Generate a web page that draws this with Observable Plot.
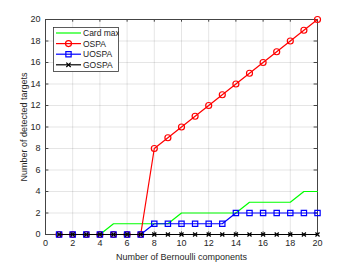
<!DOCTYPE html>
<html><head><meta charset="utf-8">
<script src="https://cdn.jsdelivr.net/npm/d3@7"></script>
<script src="https://cdn.jsdelivr.net/npm/@observablehq/plot@0.6"></script>
<style>
body{margin:0;background:#fff;font-family:"Liberation Sans",Arial,sans-serif;}
#wrap{position:relative;width:350px;height:263px;}
#legend{position:absolute;left:53px;top:27px;}
</style></head>
<body><div id="wrap"></div>
<script>
const components = d3.range(1, 21);
const cardMax = [0,0,0,0,1,1,1,1,1,2,2,2,2,2,3,3,3,3,4,4];
const ospa    = [0,0,0,0,0,0,0,8,9,10,11,12,13,14,15,16,17,18,19,20];
const uospa   = [0,0,0,0,0,0,0,1,1,1,1,1,1,2,2,2,2,2,2,2];
const gospa   = [0,0,0,0,0,0,0,0,0,0,0,0,0,0,0,0,0,0,0,0];
const xTicks = d3.range(0, 21, 2);
const yTicks = d3.range(0, 21, 2);
const seriesNames = ["Card max","OSPA","UOSPA","GOSPA"];
const seriesColors = ["#00ff00","#ff0000","#0000ff","#000000"];

const rows = (arr) => components.map((c,i)=>({x:c,y:arr[i]}));

const chart = Plot.plot({
  width:350, height:263,
  marginLeft:45, marginRight:33, marginTop:19, marginBottom:29,
  style:{fontFamily:"Liberation Sans, Arial, sans-serif", fontSize:"9px", color:"#262626", background:"#fff"},
  x:{domain:[0,20], ticks:xTicks},
  y:{domain:[0,20], ticks:yTicks},
  marks:[
    Plot.gridX(xTicks,{stroke:"#000",strokeOpacity:0.1}),
    Plot.gridY(yTicks,{stroke:"#000",strokeOpacity:0.1}),
    Plot.axisX({ticks:xTicks, tickSize:0, tickPadding:5, label:"Number of Bernoulli components", labelAnchor:"center", labelOffset:25, labelArrow:"none", fontSize:9}),
    Plot.axisY({ticks:yTicks, tickSize:0, tickPadding:5, label:"Number of detected targets", labelAnchor:"center", labelOffset:25, labelArrow:"none", fontSize:9}),
    Plot.ruleX(xTicks,{x:d=>d, y1:0, y2:0.25, stroke:"#444"}),
    Plot.ruleX(xTicks,{x:d=>d, y1:19.75, y2:20, stroke:"#444"}),
    Plot.ruleY(yTicks,{y:d=>d, x1:0, x2:0.25, stroke:"#444"}),
    Plot.ruleY(yTicks,{y:d=>d, x1:19.75, x2:20, stroke:"#444"}),
    Plot.frame({stroke:"#444"}),
    Plot.line(rows(cardMax),{x:"x",y:"y",stroke:seriesColors[0],strokeWidth:1.2}),
    Plot.line(rows(ospa),{x:"x",y:"y",stroke:seriesColors[1],strokeWidth:1.2}),
    Plot.dot(rows(ospa),{x:"x",y:"y",stroke:seriesColors[1],r:3,symbol:"circle",strokeWidth:1.2}),
    Plot.line(rows(uospa),{x:"x",y:"y",stroke:seriesColors[2],strokeWidth:1.2}),
    Plot.dot(rows(uospa),{x:"x",y:"y",stroke:seriesColors[2],r:3,symbol:"square",strokeWidth:1.2}),
    Plot.line(rows(gospa),{x:"x",y:"y",stroke:seriesColors[3],strokeWidth:1.2}),
    Plot.dot(rows(gospa),{x:"x",y:"y",stroke:seriesColors[3],r:2,symbol:"times",strokeWidth:1.2})
  ]
});
document.getElementById("wrap").appendChild(chart);

// legend
const lg = d3.select("#wrap").append("svg").attr("id","legend").attr("width",66).attr("height",45);
lg.append("rect").attr("x",0.5).attr("y",0.5).attr("width",65).attr("height",44).attr("fill","#fff").attr("stroke","#333").attr("stroke-width",0.8);
const syms = ["none","circle","square","times"];
seriesNames.forEach((n,i)=>{
  const y = 6 + i*10.6;
  const g = lg.append("g");
  g.append("line").attr("x1",3).attr("x2",28).attr("y1",y).attr("y2",y).attr("stroke",seriesColors[i]).attr("stroke-width",1.2);
  if(syms[i]!=="none"){
    const s = syms[i]==="circle"?d3.symbolCircle:syms[i]==="square"?d3.symbolSquare:d3.symbolTimes;
    g.append("path").attr("d",d3.symbol(s, syms[i]==="times"?14:28)()).attr("transform",`translate(15.5,${y})`).attr("fill","none").attr("stroke",seriesColors[i]).attr("stroke-width",1.2);
  }
  g.append("text").attr("x",30).attr("y",y+3).attr("font-size",8.5).attr("fill","#222").attr("font-family","Liberation Sans, Arial, sans-serif").text(n);
});
</script></body></html>
